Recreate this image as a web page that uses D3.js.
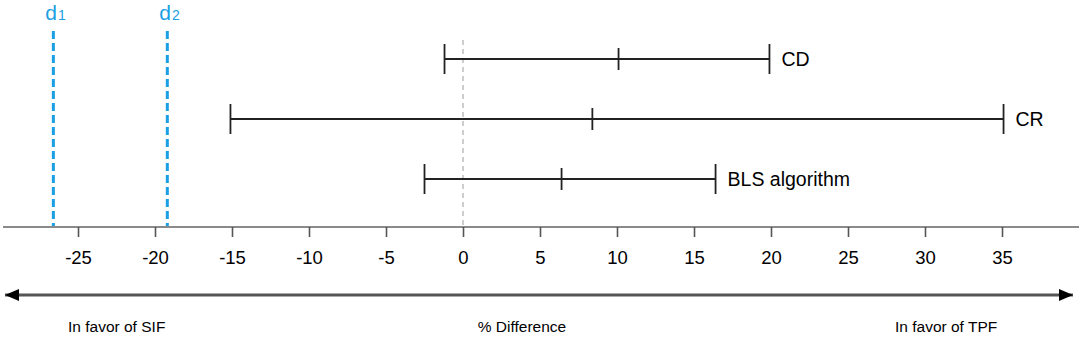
<!DOCTYPE html>
<html>
<head>
<meta charset="utf-8">
<script src="https://cdn.jsdelivr.net/npm/d3@7"></script>
<style>
  html, body { margin: 0; padding: 0; background: #fff; }
  svg { display: block; font-family: Arial, "Liberation Sans", sans-serif; }
</style>
</head>
<body>
<div id="chart"></div>
<script>
// data
const labels = ['CD', 'CR', 'BLS algorithm'];
const lower = [-1.2, -15.1, -2.5];
const estimate = [10.1, 8.4, 6.4];
const upper = [19.9, 35.1, 16.4];
const thresholds = [-26.6, -19.2];
const thresholdNames = ['1', '2'];
const tickValues = [-25, -20, -15, -10, -5, 0, 5, 10, 15, 20, 25, 30, 35];

const width = 1084, height = 338;
const axisY = 227;

const svg = d3.select('#chart').append('svg')
    .attr('width', width)
    .attr('height', height);

const x = d3.scaleLinear().domain([-25, 35]).range([78, 1002]);
const y = d3.scalePoint().domain(labels).range([59, 179]);

// zero reference line
svg.append('line')
    .attr('x1', x(0)).attr('x2', x(0))
    .attr('y1', 40).attr('y2', axisY)
    .attr('stroke', '#bdbdbd')
    .attr('stroke-width', 1.5)
    .attr('stroke-dasharray', '5,4');

// threshold lines d1, d2
const th = svg.selectAll('.thresh')
    .data(thresholds)
    .enter().append('g')
    .attr('class', 'thresh');

th.append('line')
    .attr('x1', d => x(d)).attr('x2', d => x(d))
    .attr('y1', 31).attr('y2', axisY)
    .attr('stroke', '#1a9fe3')
    .attr('stroke-width', 3)
    .attr('stroke-dasharray', '8,4');

const thText = th.append('text')
    .attr('x', d => x(d) - 8)
    .attr('y', 20)
    .attr('fill', '#1a9fe3')
    .attr('font-size', 21);
thText.append('tspan').text('d');
thText.append('tspan')
    .attr('font-size', 14)
    .attr('dx', 1)
    .text((d, i) => thresholdNames[i]);

// axis
svg.append('line')
    .attr('x1', 3).attr('x2', 1079)
    .attr('y1', axisY).attr('y2', axisY)
    .attr('stroke', '#8a8a8a')
    .attr('stroke-width', 2);

const axis = svg.append('g')
    .attr('transform', `translate(0,${axisY})`)
    .call(d3.axisBottom(x).tickValues(tickValues).tickSize(10).tickPadding(14).tickFormat(d3.format('d')));
axis.select('.domain').remove();
axis.selectAll('.tick line').attr('stroke', '#555').attr('stroke-width', 1.6);
axis.selectAll('.tick text')
    .attr('fill', '#000')
    .attr('font-size', 18.5)
    .attr('font-family', 'Arial, "Liberation Sans", sans-serif')
    .text(d => d < 0 ? '-' + Math.abs(d) : d);

// error bars
const bars = svg.selectAll('.bar')
    .data(labels)
    .enter().append('g')
    .attr('class', 'bar')
    .attr('stroke', '#222')
    .attr('stroke-width', 1.8);

bars.append('line')
    .attr('x1', (d, i) => x(lower[i])).attr('x2', (d, i) => x(upper[i]))
    .attr('y1', d => y(d)).attr('y2', d => y(d));
bars.append('line')
    .attr('x1', (d, i) => x(lower[i])).attr('x2', (d, i) => x(lower[i]))
    .attr('y1', d => y(d) - 15).attr('y2', d => y(d) + 15);
bars.append('line')
    .attr('x1', (d, i) => x(upper[i])).attr('x2', (d, i) => x(upper[i]))
    .attr('y1', d => y(d) - 15).attr('y2', d => y(d) + 15);
bars.append('line')
    .attr('x1', (d, i) => x(estimate[i])).attr('x2', (d, i) => x(estimate[i]))
    .attr('y1', d => y(d) - 11).attr('y2', d => y(d) + 11);

svg.selectAll('.bar-label')
    .data(labels)
    .enter().append('text')
    .attr('class', 'bar-label')
    .attr('x', (d, i) => x(upper[i]) + 12)
    .attr('y', d => y(d) + 7)
    .attr('font-size', 19.5)
    .attr('fill', '#000')
    .text(d => d);

// double-headed arrow
const defs = svg.append('defs');
defs.append('marker')
    .attr('id', 'arrowEnd')
    .attr('viewBox', '0 0 14 12')
    .attr('refX', 14).attr('refY', 6)
    .attr('markerWidth', 14).attr('markerHeight', 12)
    .attr('markerUnits', 'userSpaceOnUse')
    .attr('orient', 'auto')
    .append('path').attr('d', 'M0,0L14,6L0,12Z').attr('fill', '#000');
defs.append('marker')
    .attr('id', 'arrowStart')
    .attr('viewBox', '0 0 14 12')
    .attr('refX', 0).attr('refY', 6)
    .attr('markerWidth', 14).attr('markerHeight', 12)
    .attr('markerUnits', 'userSpaceOnUse')
    .attr('orient', 'auto')
    .append('path').attr('d', 'M14,0L0,6L14,12Z').attr('fill', '#000');

svg.append('line')
    .attr('x1', 5).attr('x2', 1073)
    .attr('y1', 295).attr('y2', 295)
    .attr('stroke', '#555')
    .attr('stroke-width', 3)
    .attr('marker-start', 'url(#arrowStart)')
    .attr('marker-end', 'url(#arrowEnd)');

// bottom captions
const captions = [
    { text: 'In favor of SIF', x: 68, anchor: 'start' },
    { text: '% Difference', x: 522, anchor: 'middle' },
    { text: 'In favor of TPF', x: 895, anchor: 'start' }
];
svg.selectAll('.caption')
    .data(captions)
    .enter().append('text')
    .attr('class', 'caption')
    .attr('x', d => d.x)
    .attr('y', 332)
    .attr('text-anchor', d => d.anchor)
    .attr('font-size', 15.5)
    .attr('fill', '#000')
    .text(d => d.text);
</script>
</body>
</html>
